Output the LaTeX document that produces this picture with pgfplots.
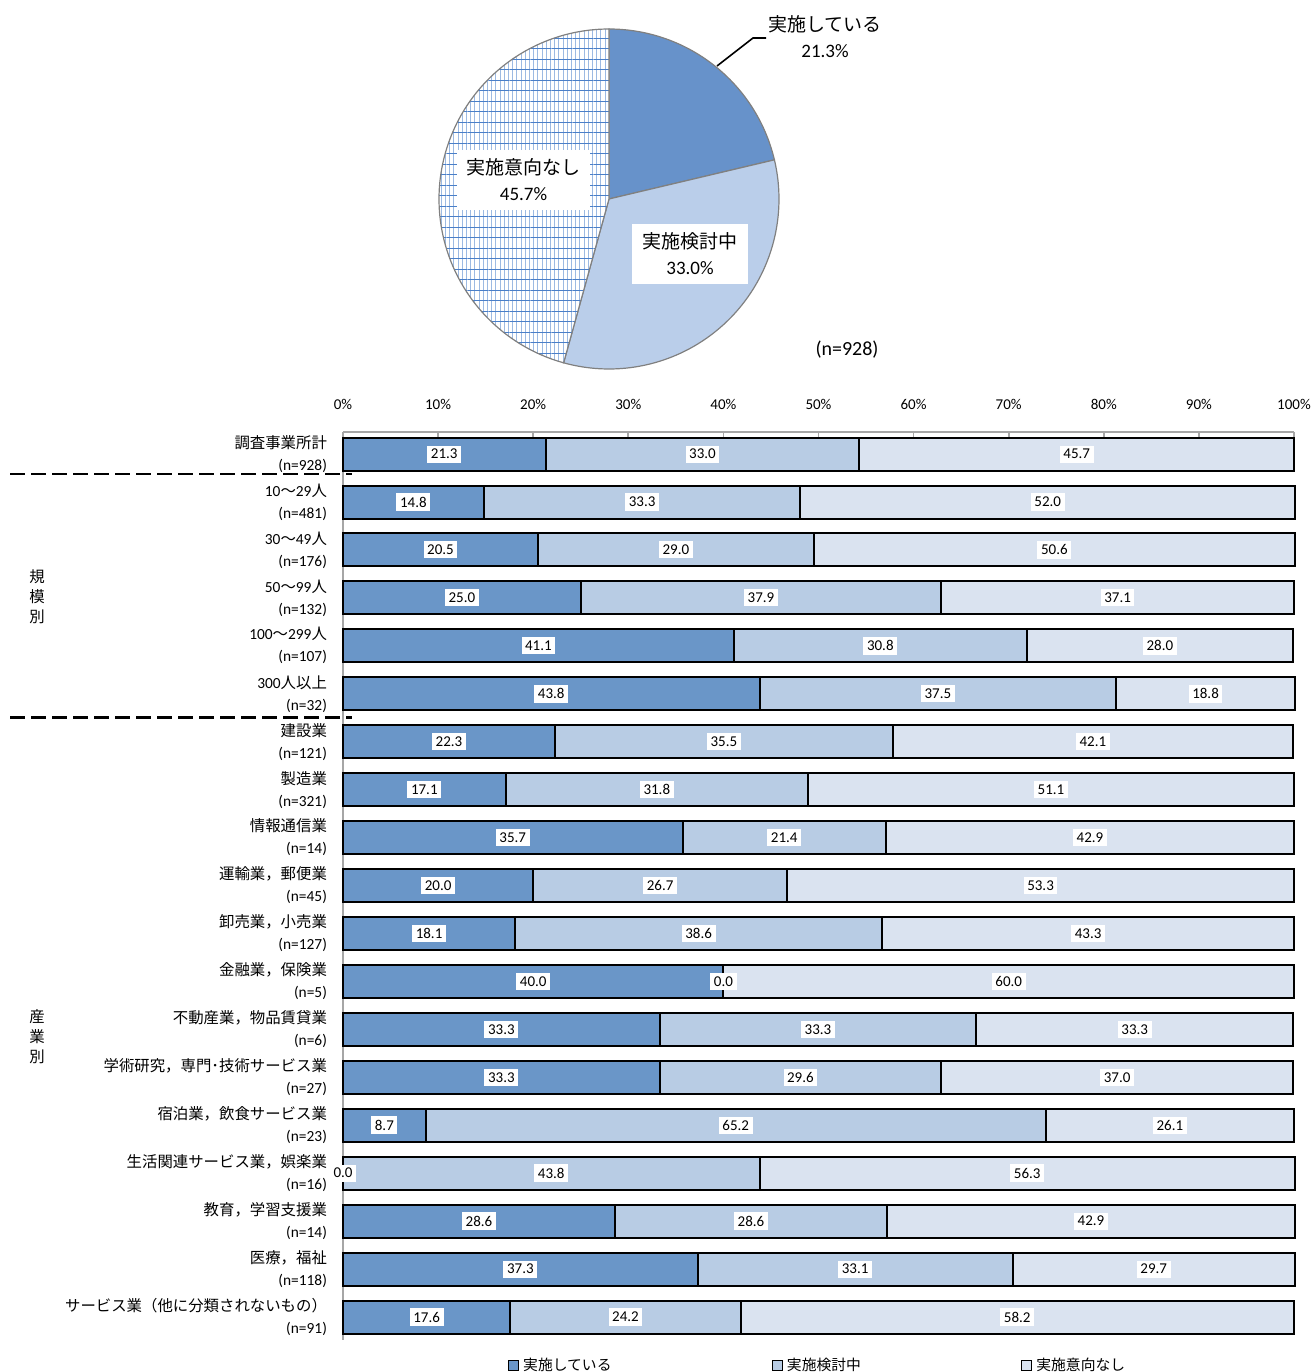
\documentclass[border=0pt]{standalone}
\usepackage{fontspec}
\setmainfont{Carlito}
\newfontfamily\jp{Noto Sans CJK JP}
\usepackage{pgfplots}
\usepackage{pgfplotstable}
\pgfplotsset{compat=1.18}
\usepgfplotslibrary{polar}
\usetikzlibrary{patterns.meta}
\definecolor{cA}{HTML}{6A96C8}
\definecolor{cB}{HTML}{B8CCE4}
\definecolor{cC}{HTML}{DAE3F0}
\definecolor{pA}{HTML}{6792CA}
\definecolor{pB}{HTML}{BACEEA}
\definecolor{pLineH}{HTML}{4A7FC8}
\definecolor{pLineV}{HTML}{9DBAE2}
\definecolor{axgray}{HTML}{A6A6A6}

\pgfplotstableread{
idx a b c
0 21.3 33.0 45.7
1 14.8 33.3 52.0
2 20.5 29.0 50.6
3 25.0 37.9 37.1
4 41.1 30.8 28.0
5 43.8 37.5 18.8
6 22.3 35.5 42.1
7 17.1 31.8 51.1
8 35.7 21.4 42.9
9 20.0 26.7 53.3
10 18.1 38.6 43.3
11 40.0 0.0 60.0
12 33.3 33.3 33.3
13 33.3 29.6 37.0
14 8.7 65.2 26.1
15 0.0 43.8 56.3
16 28.6 28.6 42.9
17 37.3 33.1 29.7
18 17.6 24.2 58.2
}\data
\pgfplotstablecreatecol[create col/expr={\thisrow{a}/2}]{ca}{\data}
\pgfplotstablecreatecol[create col/expr={\thisrow{a}+\thisrow{b}/2}]{cb}{\data}
\pgfplotstablecreatecol[create col/expr={\thisrow{a}+\thisrow{b}+\thisrow{c}/2}]{cc}{\data}

\pgfplotsset{
  barframe/.style={
    scale only axis, width=475.5pt, height=454pt,
    at={(171.5pt,16pt)}, anchor=south west,
    xmin=0, xmax=100, ymin=-0.46, ymax=18.48, y dir=reverse,
  },
  sqlegend/.style={legend image code/.code={\draw[##1, line width=0.7pt] (0pt,-2.5pt) rectangle (5pt,2.5pt);}},
}

\begin{document}
\begin{tikzpicture}
\path[use as bounding box] (0,0) rectangle (657.5pt,686pt);

% ---------- pie ----------
\begin{polaraxis}[
  at={(304.5pt,586.5pt)}, anchor=center,
  scale only axis, width=170pt, height=170pt,
  hide axis, ymin=0, ymax=1, clip=false
]
% 実施している 21.3% : 90 -> 90-3.6*21.3
\addplot[draw=gray, line width=0.6pt, fill=pA, domain=13.32:90, samples=60] {1} -- (axis cs:0,0) -- cycle;
% 実施検討中 33.0%
\addplot[draw=gray, line width=0.6pt, fill=pB, domain=-105.48:13.32, samples=90] {1} -- (axis cs:0,0) -- cycle;
% 実施意向なし 45.7%
\addplot[draw=none, fill=white, domain=-270:-105.48, samples=120] {1} -- (axis cs:0,0) -- cycle;
\addplot[draw=none, pattern={Lines[angle=90,distance=2.1pt,line width=0.3pt]}, pattern color=pLineV, domain=-270:-105.48, samples=120] {1} -- (axis cs:0,0) -- cycle;
\addplot[draw=gray, line width=0.6pt, pattern={Lines[angle=0,distance=5.25pt,line width=0.5pt]}, pattern color=pLineH, domain=-270:-105.48, samples=120] {1} -- (axis cs:0,0) -- cycle;
\end{polaraxis}

\draw[black, line width=0.8pt] (358.5pt,653pt) -- (376.5pt,667pt) -- (383pt,667pt);
\node[font=\fontsize{9.5}{13}\selectfont, align=center] at (412.5pt,667.5pt) {{\jp 実施している}\\21.3\%};
\node[fill=white, minimum width=66.5pt, minimum height=30pt, align=center, font=\fontsize{9.5}{13}\selectfont] at (261.75pt,596pt) {{\jp 実施意向なし}\\45.7\%};
\node[fill=white, minimum width=58pt, minimum height=30pt, align=center, font=\fontsize{9.5}{13}\selectfont] at (345pt,559pt) {{\jp 実施検討中}\\33.0\%};
\node[font=\fontsize{10}{12}\selectfont] at (423.5pt,511pt) {(n=928)};

% ---------- bars ----------
\begin{axis}[
  barframe,
  xbar stacked, bar width=16.5pt,
  every axis plot post/.append style={sqlegend},
  axis x line*=top, axis y line*=left,
  axis line style={draw=axgray, line width=0.9pt, -},
  clip=false,
  tick align=inside, major tick length=3pt,
  xtick style={draw=axgray, line width=0.8pt},
  ytick style={draw=none},
  xtick={0,10,...,100},
  xticklabel={\pgfmathprintnumber{\tick}\%},
  xticklabel style={font=\fontsize{7.5}{9}\selectfont, yshift=7.5pt},
  /pgf/number format/assume math mode=true,
  ytick={0,...,18},
  yticklabel style={font=\fontsize{7.7}{11}\selectfont, align=right, xshift=-4.5pt},
  yticklabels={
    {{\jp 調査事業所計}\\(n=928)},
    {10{\jp 〜}29{\jp 人}\\(n=481)},
    {30{\jp 〜}49{\jp 人}\\(n=176)},
    {50{\jp 〜}99{\jp 人}\\(n=132)},
    {100{\jp 〜}299{\jp 人}\\(n=107)},
    {300{\jp 人以上}\\(n=32)},
    {{\jp 建設業}\\(n=121)},
    {{\jp 製造業}\\(n=321)},
    {{\jp 情報通信業}\\(n=14)},
    {{\jp 運輸業，郵便業}\\(n=45)},
    {{\jp 卸売業，小売業}\\(n=127)},
    {{\jp 金融業，保険業}\\(n=5)},
    {{\jp 不動産業，物品賃貸業}\\(n=6)},
    {{\jp 学術研究，専門･技術サービス業}\\(n=27)},
    {{\jp 宿泊業，飲食サービス業}\\(n=23)},
    {{\jp 生活関連サービス業，娯楽業}\\(n=16)},
    {{\jp 教育，学習支援業}\\(n=14)},
    {{\jp 医療，福祉}\\(n=118)},
    {{\jp サービス業（他に分類されないもの）}\\(n=91)},
  },
  legend style={draw=none, fill=none, at={(0.5,-0.028)}, anchor=center,
    legend columns=3, font=\fontsize{7.4}{8}\selectfont,
    /tikz/every even column/.append style={column sep=78pt}},
  legend cell align=left,
]
\addplot[fill=cA, draw=black, line width=1pt] table[x=a, y=idx] {\data};
\addlegendentry{\jp 実施している}
\addplot[fill=cB, draw=black, line width=1pt] table[x=b, y=idx] {\data};
\addlegendentry{\jp 実施検討中}
\addplot[fill=cC, draw=black, line width=1pt] table[x=c, y=idx] {\data};
\addlegendentry{\jp 実施意向なし}

\draw[black, line width=1.3pt, dash pattern=on 7.5pt off 3pt] (axis cs:-35,0.42) -- (axis cs:0.95,0.42);
\draw[black, line width=1.3pt, dash pattern=on 7.5pt off 3pt] (axis cs:-35,5.5) -- (axis cs:0.95,5.5);
\end{axis}

% ---------- value labels ----------
\begin{axis}[
  barframe, hide axis, clip=false,
  nodes near coords, point meta=explicit symbolic,
  nodes near coords align={center},
  every node near coord/.append style={anchor=center, fill=white, inner sep=1.8pt, font=\fontsize{7.5}{9}\selectfont},
]
\addplot[draw=none, mark=none] table[x=ca, y=idx, meta=a] {\data};
\addplot[draw=none, mark=none] table[x=cb, y=idx, meta=b] {\data};
\addplot[draw=none, mark=none] table[x=cc, y=idx, meta=c] {\data};
\end{axis}

\node[font=\fontsize{7.7}{10}\selectfont, align=center] at (18.5pt,387.5pt) {\jp 規\\\jp 模\\\jp 別};
\node[font=\fontsize{7.7}{10}\selectfont, align=center] at (18.5pt,167.5pt) {\jp 産\\\jp 業\\\jp 別};
\end{tikzpicture}
\end{document}
